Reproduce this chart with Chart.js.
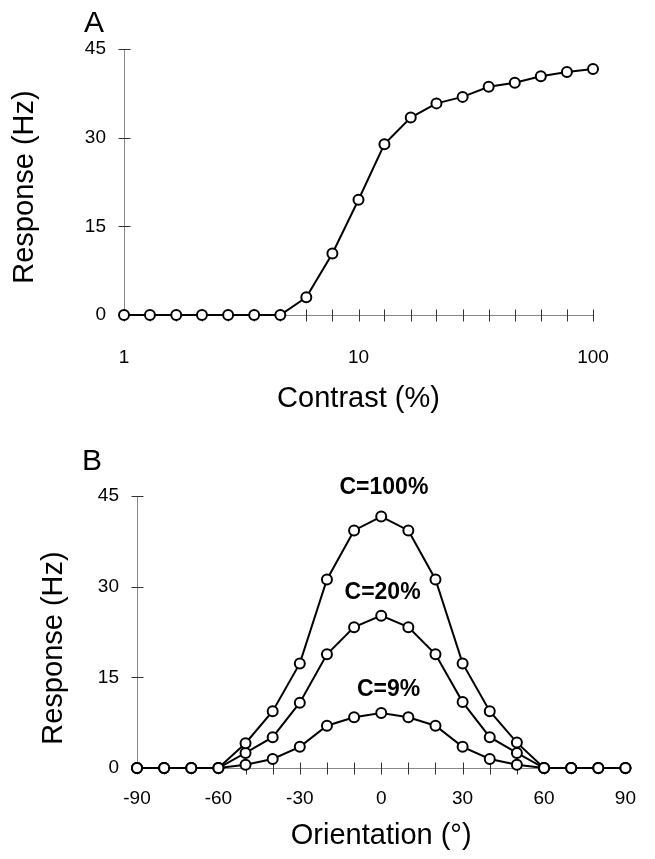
<!DOCTYPE html>
<html><head><meta charset="utf-8">
<script src="https://cdn.jsdelivr.net/npm/chart.js@4/dist/chart.umd.min.js"></script>
<style>
html,body{margin:0;padding:0;background:#fff;width:655px;height:859px;overflow:hidden}
.box{position:absolute;left:0;width:655px}
#boxA{top:0;height:430px}
#boxB{top:420px;height:439px}
</style></head><body>
<div class="box" id="boxA"><canvas id="chartA" width="655" height="430"></canvas></div>
<div class="box" id="boxB"><canvas id="chartB" width="655" height="439"></canvas></div>
<script>
// ---- Panel A data ----
const contrast = [1, 1.29, 1.67, 2.15, 2.78, 3.59, 4.64, 5.99, 7.74, 10, 12.9, 16.7, 21.5, 27.8, 35.9, 46.4, 59.9, 77.4, 100];
const responseA = [0, 0, 0, 0, 0, 0, 0, 3.0, 10.4, 19.5, 28.9, 33.4, 35.8, 36.9, 38.6, 39.3, 40.4, 41.1, 41.6];
const contrastTickLabels = [1, 10, 100];
const responseTicks = [0, 15, 30, 45];

// ---- Panel B data ----
const orientation = [-90, -80, -70, -60, -50, -40, -30, -20, -10, 0, 10, 20, 30, 40, 50, 60, 70, 80, 90];
const resp100 = [0, 0, 0, 0, 4.1, 9.4, 17.3, 31.2, 39.3, 41.6, 39.3, 31.2, 17.3, 9.4, 4.2, 0, 0, 0, 0];
const resp20  = [0, 0, 0, 0, 2.5, 5.1, 10.8, 18.8, 23.3, 25.2, 23.3, 18.8, 10.9, 5.1, 2.5, 0, 0, 0, 0];
const resp9   = [0, 0, 0, 0, 0.55, 1.5, 3.5, 7.0, 8.4, 9.1, 8.4, 7.0, 3.5, 1.5, 0.55, 0, 0, 0, 0];
const orientationTickLabels = [-90, -60, -30, 0, 30, 60, 90];
const seriesLabels = ['C=100%', 'C=20%', 'C=9%'];
const seriesLabelOrientation = [1, 0.5, 2.7];
const seriesLabelResponse = [46.4, 29.0, 12.9];

const FONT = "'Liberation Sans', Arial, Helvetica, sans-serif";
Chart.defaults.font.family = FONT;
Chart.defaults.color = '#000';

const tickMarks = {
  id: 'tickMarks',
  beforeDatasetsDraw(chart) {
    const ctx = chart.ctx, xs = chart.scales.x, ys = chart.scales.y;
    const L = 6;
    const y0 = Math.round(ys.getPixelForValue(0)) + 0.5;
    const x0 = Math.round(xs.left) + 0.5;
    ctx.save();
    ctx.strokeStyle = '#333';
    ctx.lineWidth = 1;
    xs.ticks.forEach(t => {
      const px = Math.round(xs.getPixelForValue(t.value)) + 0.5;
      ctx.beginPath(); ctx.moveTo(px, y0 - L); ctx.lineTo(px, y0 + L); ctx.stroke();
    });
    ys.ticks.forEach(t => {
      const py = Math.round(ys.getPixelForValue(t.value)) + 0.5;
      ctx.beginPath(); ctx.moveTo(x0 - L, py); ctx.lineTo(x0 + L, py); ctx.stroke();
    });
    ctx.restore();
  }
};

const panelText = {
  id: 'panelText',
  afterDraw(chart, args, opts) {
    const ctx = chart.ctx, ys = chart.scales.y;
    ctx.save();
    ctx.fillStyle = '#000';
    // panel letter
    ctx.font = "30px " + FONT;
    ctx.textBaseline = 'alphabetic';
    ctx.textAlign = 'left';
    ctx.fillText(opts.letter, opts.letterX, opts.letterY);
    // y-axis title
    const cy = (ys.top + ys.bottom) / 2 + opts.titleShift;
    ctx.translate(opts.titleBaseX, cy);
    ctx.rotate(-Math.PI / 2);
    ctx.font = "29px " + FONT;
    ctx.textAlign = 'center';
    ctx.textBaseline = 'alphabetic';
    ctx.fillText(opts.yTitle, 0, 0);
    ctx.restore();
  }
};

const seriesTags = {
  id: 'seriesTags',
  afterDatasetsDraw(chart, args, opts) {
    if (!opts.labels) return;
    const ctx = chart.ctx, xs = chart.scales.x, ys = chart.scales.y;
    ctx.save();
    ctx.fillStyle = '#000';
    ctx.font = "bold 23px " + FONT;
    ctx.textAlign = 'center';
    ctx.textBaseline = 'middle';
    opts.labels.forEach((t, i) => {
      ctx.fillText(t, xs.getPixelForValue(opts.xs[i]), ys.getPixelForValue(opts.ys[i]));
    });
    ctx.restore();
  }
};

const lineStyle = {
  borderColor: '#000',
  borderWidth: 2,
  pointRadius: 5,
  pointHoverRadius: 5,
  pointBorderWidth: 2,
  pointBackgroundColor: '#fff',
  pointBorderColor: '#000',
  tension: 0,
  clip: false,
  fill: false
};

const tickFont = { size: 19 };
const titleFont = { size: 29 };
const axisBorder = { display: true, color: '#888', width: 1 };

function yScale(width) {
  return {
    type: 'linear', min: 0, max: 45,
    afterBuildTicks: s => { s.ticks = responseTicks.map(v => ({ value: v })); },
    grid: { display: false, drawTicks: false },
    border: axisBorder,
    ticks: { font: tickFont, padding: 18, color: '#000' },
    title: { display: false },
    afterFit: s => { s.width = width; }
  };
}

new Chart(document.getElementById('chartA'), {
  type: 'line',
  data: {
    datasets: [Object.assign({ data: contrast.map((c, i) => ({ x: c, y: responseA[i] })) }, lineStyle)]
  },
  options: {
    responsive: false, animation: false, devicePixelRatio: 1,
    layout: { padding: { left: 0, top: 49, right: 62, bottom: 0 } },
    plugins: {
      legend: { display: false }, tooltip: { enabled: false },
      panelText: { letter: 'A', letterX: 84, letterY: 32, yTitle: 'Response (Hz)', titleBaseX: 33, titleShift: 5 },
      seriesTags: {}
    },
    scales: {
      x: {
        type: 'logarithmic', min: 1, max: 100,
        afterBuildTicks: s => { s.ticks = contrast.map(v => ({ value: v })); },
        grid: { display: false, drawTicks: false },
        border: axisBorder,
        ticks: {
          font: tickFont, padding: 31, color: '#000', autoSkip: false, maxRotation: 0,
          callback: v => contrastTickLabels.includes(v) ? String(v) : ''
        },
        title: { display: true, text: 'Contrast (%)', font: titleFont, color: '#000', padding: { top: 0, bottom: 14 } },
        afterFit: s => { s.height = 115; }
      },
      y: yScale(124)
    }
  },
  plugins: [tickMarks, panelText, seriesTags]
});

new Chart(document.getElementById('chartB'), {
  type: 'line',
  data: {
    labels: orientation,
    datasets: [resp100, resp20, resp9].map((arr, k) => Object.assign({
      label: seriesLabels[k],
      data: orientation.map((o, i) => ({ x: o, y: arr[i] }))
    }, lineStyle))
  },
  options: {
    responsive: false, animation: false, devicePixelRatio: 1,
    layout: { padding: { left: 0, top: 76, right: 13, bottom: 0 } },
    plugins: {
      legend: { display: false }, tooltip: { enabled: false },
      panelText: { letter: 'B', letterX: 82, letterY: 50, yTitle: 'Response (Hz)', titleBaseX: 62, titleShift: 16 },
      seriesTags: { labels: seriesLabels, xs: seriesLabelOrientation, ys: seriesLabelResponse }
    },
    scales: {
      x: {
        type: 'linear', min: -90, max: 90,
        afterBuildTicks: s => { s.ticks = orientation.map(v => ({ value: v })); },
        grid: { display: false, drawTicks: false },
        border: axisBorder,
        ticks: {
          font: tickFont, padding: 19, color: '#000', autoSkip: false, maxRotation: 0,
          callback: v => orientationTickLabels.includes(v) ? String(v) : ''
        },
        title: { display: true, text: 'Orientation (°)', font: titleFont, color: '#000', padding: { top: 0, bottom: 6 } },
        afterFit: s => { s.height = 91; }
      },
      y: yScale(137)
    }
  },
  plugins: [tickMarks, panelText, seriesTags]
});
</script>
</body></html>
